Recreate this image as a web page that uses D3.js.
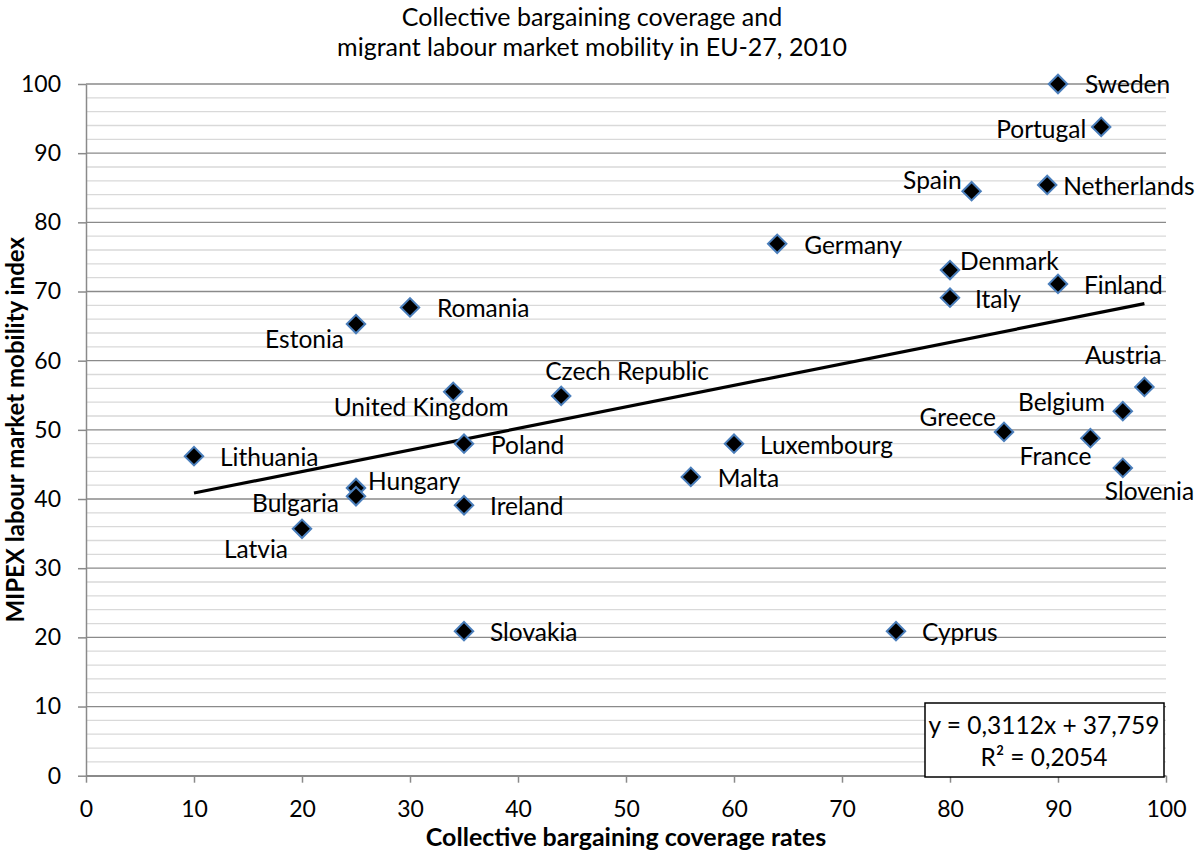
<!DOCTYPE html>
<html>
<head>
<meta charset="utf-8">
<script src="https://cdn.jsdelivr.net/npm/d3@7"></script>
<style>
  body { margin: 0; background: #fff; }
  svg text { font-family: Lato, "Open Sans", sans-serif; fill: #000; }
</style>
</head>
<body>
<div id="chart"></div>
<script>
// data
const countries = ['Sweden', 'Portugal', 'Spain', 'Netherlands', 'Germany', 'Denmark', 'Italy', 'Finland',
  'Romania', 'Estonia', 'Austria', 'Czech Republic', 'United Kingdom', 'Belgium', 'Greece', 'France',
  'Poland', 'Luxembourg', 'Lithuania', 'Slovenia', 'Malta', 'Hungary', 'Bulgaria', 'Ireland', 'Latvia',
  'Slovakia', 'Cyprus'];
const coverage = [90, 94, 82, 89, 64, 80, 80, 90, 30, 25, 98, 44, 34, 96, 85, 93, 35, 60, 10, 96, 56, 25, 25, 35, 20, 35, 75];
const mobility = [100, 93.8, 84.5, 85.4, 76.9, 73.1, 69.1, 71.1, 67.7, 65.3, 56.2, 54.9, 55.5, 52.7, 49.7, 48.8,
  48.0, 48.0, 46.2, 44.5, 43.2, 41.6, 40.4, 39.1, 35.7, 20.9, 20.9];
const xTicks = [0, 10, 20, 30, 40, 50, 60, 70, 80, 90, 100];
const yTicks = [0, 10, 20, 30, 40, 50, 60, 70, 80, 90, 100];
const trendSlope = 0.3112;
const trendIntercept = 37.759;
const trendRange = [10, 98];
const titleLines = ['Collective bargaining coverage and', 'migrant labour market mobility in EU-27, 2010'];
const eqnLines = ['y = 0,3112x + 37,759', 'R² = 0,2054'];

// where each label sits next to its marker: [anchor, dx, dy]
const labelPlace = {
  'Sweden': ['start', 27, 0], 'Portugal': ['end', -15, 3], 'Spain': ['end', -10, -11],
  'Netherlands': ['start', 16, 1], 'Germany': ['start', 27, 2], 'Denmark': ['start', 10, -9],
  'Italy': ['start', 25, 2], 'Finland': ['start', 26, 2], 'Romania': ['start', 27, 1],
  'Estonia': ['end', -12, 15], 'Austria': ['end', 17, -32], 'Czech Republic': ['start', -16, -25],
  'United Kingdom': ['middle', -32, 16], 'Belgium': ['end', -18, -9], 'Greece': ['end', -8, -15],
  'France': ['end', 1, 18], 'Poland': ['start', 27, 2], 'Luxembourg': ['start', 26, 2],
  'Lithuania': ['start', 26, 1], 'Slovenia': ['start', -18, 24], 'Malta': ['start', 27, 2],
  'Hungary': ['start', 12, -7], 'Bulgaria': ['end', -17, 7], 'Ireland': ['start', 26, 1],
  'Latvia': ['end', -14, 21], 'Slovakia': ['start', 26, 1], 'Cyprus': ['start', 26, 1]
};

const width = 1199, height = 857;
const plotLeft = 86, plotRight = 1166, plotTop = 84, plotBottom = 775.7;
const fs = 24.5, tickFs = 23, titleFs = 25;

const svg = d3.select('#chart').append('svg').attr('width', width).attr('height', height);

const x = d3.scaleLinear().domain([0, 100]).range([plotLeft, plotRight]);
const y = d3.scaleLinear().domain([0, 100]).range([plotBottom, plotTop]);

// minor gridlines every 2
const minor = d3.range(0, 101, 2).filter(v => v % 10 !== 0);
svg.append('g').selectAll('line').data(minor).enter().append('line')
  .attr('x1', plotLeft).attr('x2', plotRight).attr('y1', d => y(d)).attr('y2', d => y(d))
  .attr('stroke', '#d9d9d9').attr('stroke-width', 1.3);
svg.append('g').selectAll('line').data(yTicks).enter().append('line')
  .attr('x1', plotLeft).attr('x2', plotRight).attr('y1', d => y(d)).attr('y2', d => y(d))
  .attr('stroke', '#8a8a8a').attr('stroke-width', 1.3);

const xAxis = d3.axisBottom(x).tickValues(xTicks).tickSize(7).tickPadding(18).tickSizeOuter(0);
const yAxis = d3.axisLeft(y).tickValues(yTicks).tickSize(8).tickPadding(17).tickSizeOuter(0);
const gx = svg.append('g').attr('transform', 'translate(0,' + plotBottom + ')').call(xAxis);
const gy = svg.append('g').attr('transform', 'translate(' + plotLeft + ',0)').call(yAxis);
[gx, gy].forEach(g => {
  g.selectAll('path, line').attr('stroke', '#8a8a8a').attr('stroke-width', 1.5);
  g.selectAll('text').style('font-family', 'Lato, "Open Sans", sans-serif').style('font-size', tickFs + 'px').attr('fill', '#000');
});
gx.selectAll('text').attr('dy', '0.71em');

// trend line
const line = d3.line().x(d => x(d)).y(d => y(trendSlope * d + trendIntercept));
svg.append('path').attr('d', line(trendRange)).attr('fill', 'none').attr('stroke', '#000').attr('stroke-width', 3.2);

// markers
const pts = countries.map((c, i) => ({ name: c, cx: x(coverage[i]), cy: y(mobility[i]) }));
const diamond = d3.symbol().type(d3.symbolSquare).size(170);
svg.append('g').selectAll('path').data(pts).enter().append('path')
  .attr('d', diamond)
  .attr('transform', d => 'translate(' + d.cx + ',' + d.cy + ') rotate(45)')
  .attr('fill', '#000').attr('stroke', '#4a7ebb').attr('stroke-width', 2);

// data labels
svg.append('g').selectAll('text').data(pts).enter().append('text')
  .attr('x', d => d.cx + labelPlace[d.name][1])
  .attr('y', d => d.cy + labelPlace[d.name][2])
  .attr('text-anchor', d => labelPlace[d.name][0])
  .attr('dy', '0.35em')
  .style('font-size', fs + 'px')
  .text(d => d.name);

// equation box
const box = svg.append('g');
box.append('rect').attr('x', 925).attr('y', 703).attr('width', 239).attr('height', 74)
  .attr('fill', '#fff').attr('stroke', '#000').attr('stroke-width', 1.5);
box.selectAll('text').data(eqnLines).enter().append('text')
  .attr('x', 1044).attr('y', (d, i) => 734 + i * 32)
  .attr('text-anchor', 'middle').style('font-size', fs + 'px').text(d => d);

// titles
svg.append('g').selectAll('text').data(titleLines).enter().append('text')
  .attr('x', 592).attr('y', (d, i) => 26 + i * 30)
  .attr('text-anchor', 'middle').style('font-size', titleFs + 'px').text(d => d);

svg.append('text').attr('x', (plotLeft + plotRight) / 2).attr('y', 846)
  .attr('text-anchor', 'middle').style('font-size', titleFs + 'px').style('font-weight', 'bold')
  .text('Collective bargaining coverage rates');

svg.append('text').attr('transform', 'translate(24,' + ((plotTop + plotBottom) / 2) + ') rotate(-90)')
  .attr('text-anchor', 'middle').style('font-size', '24px').style('font-weight', 'bold')
  .text('MIPEX labour market mobility index');
</script>
</body>
</html>
